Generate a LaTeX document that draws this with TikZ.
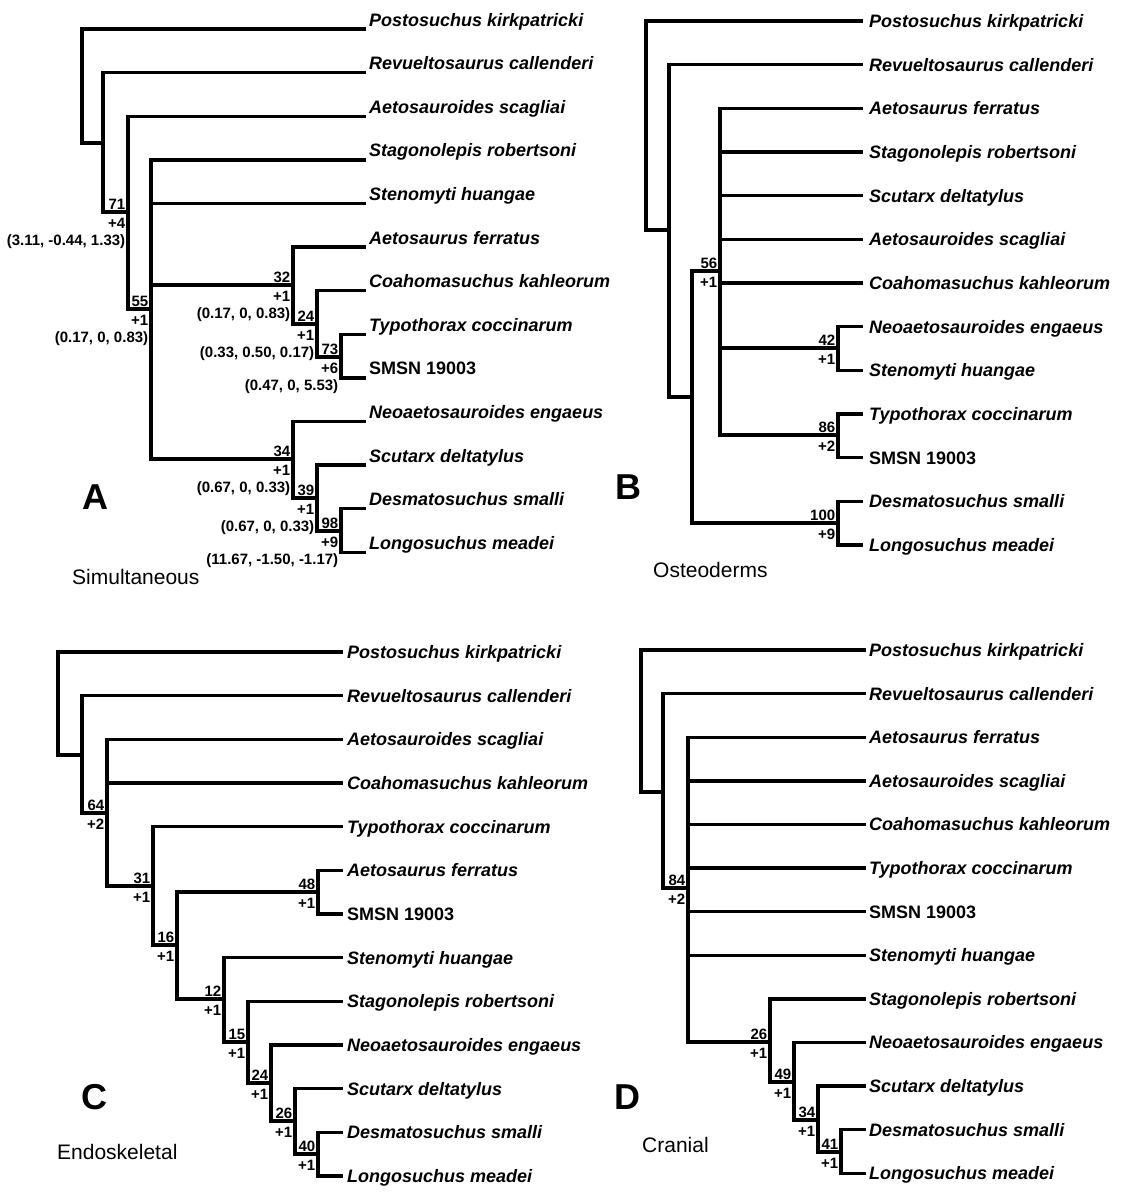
\documentclass[tikz,border=0pt]{standalone}
\usepackage{fontspec}
\newfontfamily\lsans{Liberation Sans}
\usetikzlibrary{positioning}
\tikzset{
  branch/.style={line width=3.4pt, line cap=butt, line join=miter},
  leaf/.style={font=\lsans\bfseries\itshape\fontsize{18}{20}\selectfont, anchor=base west, inner sep=0pt},
  supnum/.style={font=\lsans\bfseries\fontsize{15}{17}\selectfont, inner sep=0pt},
  chg/.style={font=\lsans\bfseries\fontsize{15}{17}\selectfont, inner sep=0pt, align=right},
  letter/.style={font=\lsans\bfseries\fontsize{36}{40}\selectfont, inner sep=0pt},
  caption/.style={font=\lsans\fontsize{21}{24}\selectfont, inner sep=0pt, anchor=west},
}
\newcommand\nodelab[3]{%
  \node[supnum, above left=2.2pt and 2.6pt of #1] (#1-s) {#2};
  \node[chg, below left=5.5pt and 2.6pt of #1] (#1-c) {#3};}
\begin{document}
\begin{tikzpicture}[x=1pt,y=-1pt]
\useasboundingbox (0,0) rectangle (1124,1200);
\fill[white] (0,0) rectangle (1124,1200);

% ---------------- Panel A ----------------
\foreach \i/\y/\t in {
  1/29/Postosuchus kirkpatricki,
  2/72.6/Revueltosaurus callenderi,
  3/116.2/Aetosauroides scagliai,
  4/159.8/Stagonolepis robertsoni,
  5/203.4/Stenomyti huangae,
  6/247/Aetosaurus ferratus,
  7/290.6/Coahomasuchus kahleorum,
  8/334.2/Typothorax coccinarum,
  9/377.8/{\upshape SMSN 19003},
  10/421.4/Neoaetosauroides engaeus,
  11/465/Scutarx deltatylus,
  12/508.6/Desmatosuchus smalli,
  13/552.2/Longosuchus meadei}{
  \coordinate (a-t\i) at (366,\y);
  \node[leaf] (a-l\i) at (369,\y-3) {\t};
}
\coordinate (a0) at (82,86);
\coordinate (a2) at (103,143);
\coordinate (a3) at (128,212);
\coordinate (a4) at (151,309);
\coordinate (a32) at (293,285);
\coordinate (a24) at (317,324);
\coordinate (a73) at (341,357);
\coordinate (a34) at (293,459);
\coordinate (a39) at (317,498);
\coordinate (a98) at (341,531);
\draw[branch]
  (a0) |- (a-t1)  (a0) |- (a2)
  (a2) |- (a-t2)  (a2) |- (a3)
  (a3) |- (a-t3)  (a3) |- (a4)
  (a4) |- (a-t4)  (a4) |- (a-t5)  (a4) |- (a32)  (a4) |- (a34)
  (a32) |- (a-t6) (a32) |- (a24)
  (a24) |- (a-t7) (a24) |- (a73)
  (a73) |- (a-t8) (a73) |- (a-t9)
  (a34) |- (a-t10) (a34) |- (a39)
  (a39) |- (a-t11) (a39) |- (a98)
  (a98) |- (a-t12) (a98) |- (a-t13);
\nodelab{a3}{71}{+4\\(3.11, -0.44, 1.33)}
\nodelab{a4}{55}{+1\\(0.17, 0, 0.83)}
\nodelab{a32}{32}{+1\\(0.17, 0, 0.83)}
\nodelab{a24}{24}{+1\\(0.33, 0.50, 0.17)}
\nodelab{a73}{73}{+6\\(0.47, 0, 5.53)}
\nodelab{a34}{34}{+1\\(0.67, 0, 0.33)}
\nodelab{a39}{39}{+1\\(0.67, 0, 0.33)}
\nodelab{a98}{98}{+9\\(11.67, -1.50, -1.17)}
\node[letter] (a-let) at (95,497) {A};
\node[caption] (a-cap) at (72,577) {Simultaneous};

% ---------------- Panel B ----------------
\foreach \i/\y/\t in {
  1/21/Postosuchus kirkpatricki,
  2/64.7/Revueltosaurus callenderi,
  3/108.3/Aetosaurus ferratus,
  4/152/Stagonolepis robertsoni,
  5/195.7/Scutarx deltatylus,
  6/239.3/Aetosauroides scagliai,
  7/283/Coahomasuchus kahleorum,
  8/326.7/Neoaetosauroides engaeus,
  9/370.3/Stenomyti huangae,
  10/414/Typothorax coccinarum,
  11/457.7/{\upshape SMSN 19003},
  12/501.3/Desmatosuchus smalli,
  13/545/Longosuchus meadei}{
  \coordinate (b-t\i) at (863,\y);
  \node[leaf] (b-l\i) at (869,\y+6.5) {\t};
}
\coordinate (b0) at (646,125.5);
\coordinate (b2) at (669,230);
\coordinate (b3) at (692,397);
\coordinate (b56) at (720,271);
\coordinate (b42) at (838,348);
\coordinate (b86) at (838,435);
\coordinate (b100) at (838,523);
\draw[branch]
  (b0) |- (b-t1) (b0) |- (b2)
  (b2) |- (b-t2) (b2) |- (b3)
  (b3) |- (b56) (b3) |- (b100)
  (b56) |- (b-t3) (b56) |- (b-t4) (b56) |- (b-t5) (b56) |- (b-t6) (b56) |- (b-t7)
  (b56) |- (b42) (b56) |- (b86)
  (b42) |- (b-t8) (b42) |- (b-t9)
  (b86) |- (b-t10) (b86) |- (b-t11)
  (b100) |- (b-t12) (b100) |- (b-t13);
\nodelab{b56}{56}{+1}
\nodelab{b42}{42}{+1}
\nodelab{b86}{86}{+2}
\nodelab{b100}{100}{+9}
\node[letter] (b-let) at (628,487) {B};
\node[caption] (b-cap) at (653,570) {Osteoderms};

% ---------------- Panel C ----------------
\foreach \i/\y/\t in {
  1/652/Postosuchus kirkpatricki,
  2/695.7/Revueltosaurus callenderi,
  3/739.3/Aetosauroides scagliai,
  4/783/Coahomasuchus kahleorum,
  5/826.7/Typothorax coccinarum,
  6/870.3/Aetosaurus ferratus,
  7/914/{\upshape SMSN 19003},
  8/957.7/Stenomyti huangae,
  9/1001.3/Stagonolepis robertsoni,
  10/1045/Neoaetosauroides engaeus,
  11/1088.7/Scutarx deltatylus,
  12/1132.3/Desmatosuchus smalli,
  13/1176/Longosuchus meadei}{
  \coordinate (c-t\i) at (343,\y);
  \node[leaf] (c-l\i) at (347,\y+6.5) {\t};
}
\coordinate (c0) at (58,703.5);
\coordinate (c2) at (82,755);
\coordinate (c64) at (107,813);
\coordinate (c31) at (153,886);
\coordinate (c16) at (177,945);
\coordinate (c48) at (318,892);
\coordinate (c12) at (224,999);
\coordinate (c15) at (248,1042);
\coordinate (c24) at (271,1083);
\coordinate (c26) at (295,1121);
\coordinate (c40) at (318,1154);
\draw[branch]
  (c0) |- (c-t1) (c0) |- (c2)
  (c2) |- (c-t2) (c2) |- (c64)
  (c64) |- (c-t3) (c64) |- (c-t4) (c64) |- (c31)
  (c31) |- (c-t5) (c31) |- (c16)
  (c16) |- (c48) (c16) |- (c12)
  (c48) |- (c-t6) (c48) |- (c-t7)
  (c12) |- (c-t8) (c12) |- (c15)
  (c15) |- (c-t9) (c15) |- (c24)
  (c24) |- (c-t10) (c24) |- (c26)
  (c26) |- (c-t11) (c26) |- (c40)
  (c40) |- (c-t12) (c40) |- (c-t13);
\nodelab{c64}{64}{+2}
\nodelab{c31}{31}{+1}
\nodelab{c16}{16}{+1}
\nodelab{c48}{48}{+1}
\nodelab{c12}{12}{+1}
\nodelab{c15}{15}{+1}
\nodelab{c24}{24}{+1}
\nodelab{c26}{26}{+1}
\nodelab{c40}{40}{+1}
\node[letter] (c-let) at (94,1097) {C};
\node[caption] (c-cap) at (57,1152) {Endoskeletal};

% ---------------- Panel D ----------------
\foreach \i/\y/\t in {
  1/650/Postosuchus kirkpatricki,
  2/693.6/Revueltosaurus callenderi,
  3/737.2/Aetosaurus ferratus,
  4/780.8/Aetosauroides scagliai,
  5/824.4/Coahomasuchus kahleorum,
  6/868/Typothorax coccinarum,
  7/911.6/{\upshape SMSN 19003},
  8/955.2/Stenomyti huangae,
  9/998.8/Stagonolepis robertsoni,
  10/1042.4/Neoaetosauroides engaeus,
  11/1086/Scutarx deltatylus,
  12/1129.6/Desmatosuchus smalli,
  13/1173.2/Longosuchus meadei}{
  \coordinate (d-t\i) at (866,\y);
  \node[leaf] (d-l\i) at (869,\y+6.5) {\t};
}
\coordinate (d0) at (641,721);
\coordinate (d2) at (663,792);
\coordinate (d84) at (688,888);
\coordinate (d26) at (770,1042);
\coordinate (d49) at (794,1082);
\coordinate (d34) at (818,1120);
\coordinate (d41) at (841,1152);
\draw[branch]
  (d0) |- (d-t1) (d0) |- (d2)
  (d2) |- (d-t2) (d2) |- (d84)
  (d84) |- (d-t3) (d84) |- (d-t4) (d84) |- (d-t5) (d84) |- (d-t6)
  (d84) |- (d-t7) (d84) |- (d-t8) (d84) |- (d26)
  (d26) |- (d-t9) (d26) |- (d49)
  (d49) |- (d-t10) (d49) |- (d34)
  (d34) |- (d-t11) (d34) |- (d41)
  (d41) |- (d-t12) (d41) |- (d-t13);
\nodelab{d84}{84}{+2}
\nodelab{d26}{26}{+1}
\nodelab{d49}{49}{+1}
\nodelab{d34}{34}{+1}
\nodelab{d41}{41}{+1}
\node[letter] (d-let) at (627,1097) {D};
\node[caption] (d-cap) at (642,1145) {Cranial};
\end{tikzpicture}
\end{document}
